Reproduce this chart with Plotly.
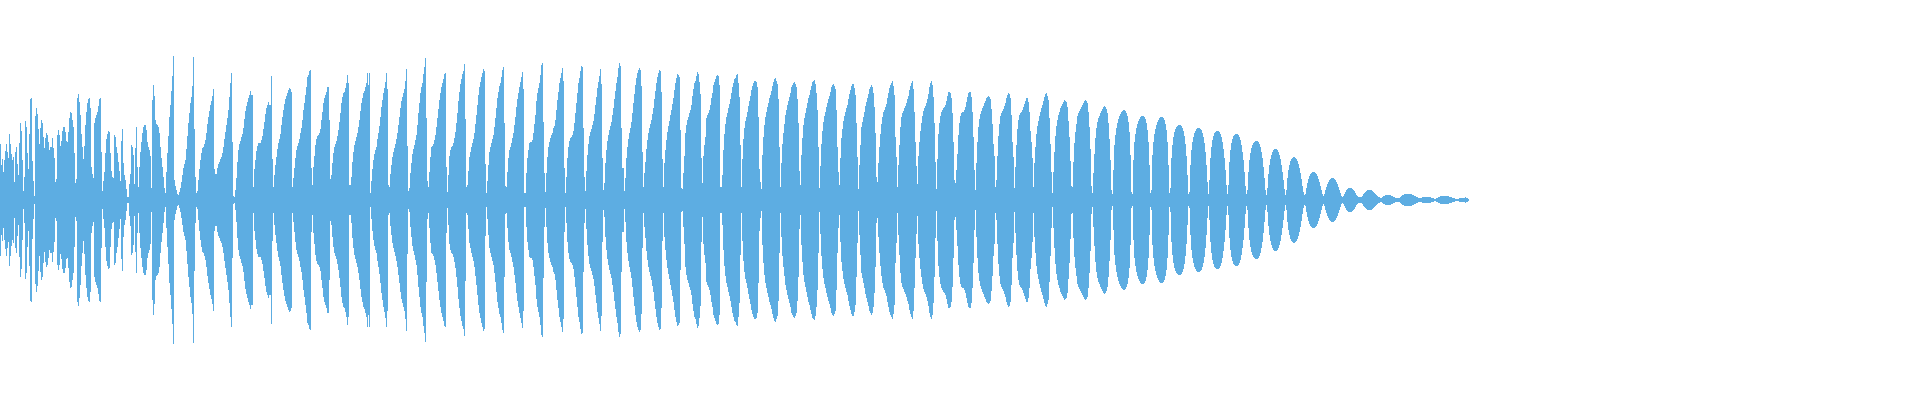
import plotly.graph_objects as go

# peak amplitude per pixel column (half-height, in px of a 400px tall canvas)
# onset: noisy attack
amp_attack = [
    56, 35, 41, 28, 40, 49, 56, 48, 42, 66,
    56, 46, 40, 43, 18, 48, 53, 36, 25, 57,
    77, 69, 40, 9, 23, 79, 73, 47, 31, 66,
    101, 102, 39, 19, 4, 84, 92, 86, 71, 56,
    72, 80, 77, 63, 52, 62, 67, 65, 58, 50,
    53, 53, 62, 52, 42, 18, 21, 65, 70, 65,
    54, 59, 69, 73, 73, 68, 59, 58, 68, 82,
    88, 87, 80, 73, 47, 17, 21, 102, 106, 98,
    85, 66, 53, 41, 54, 75, 88, 97, 101, 102,
    92, 33, 26, 22, 77, 82, 85, 88, 94, 101,
    102, 48, 9, 19, 28, 47, 61, 66, 69, 68,
    47, 29, 23, 22, 65, 63, 53, 47, 38, 29,
    19, 59, 71, 37, 25, 20, 11, 3, 3, 16,
    26, 55, 53, 45, 16, 52, 73, 33, 13, 33,
    48, 58, 67, 73, 75, 75, 70, 58, 53, 50,
    44, 12, 100, 115, 104, 80, 76, 75, 73, 67,
    53, 42, 33, 23, 12, 7, 28, 47, 64, 83,
    95, 109, 124, 144, 20, 14, 10, 6, 5, 8,
    12, 18, 25, 32, 36,
]

amp_build = [
    40, 51, 64, 77, 87, 97, 103, 114, 143, 71,
    23, 7, 9, 20, 31, 40, 47, 52, 53, 56,
    60, 67, 76, 83, 89, 95, 99, 104, 111, 31,
    26, 26, 32, 36, 38, 41, 43, 47, 53, 61,
    68, 75, 82, 90, 103, 117, 127, 58, 4, 3,
    10, 22, 38, 50, 56, 59, 63, 66, 72, 81,
    89, 94, 98, 102, 105, 109, 105, 105, 13, 31,
    40, 49, 54, 57, 57, 57, 60, 64, 71, 78,
    86, 92, 95, 98, 95, 95, 124, 41, 13, 25,
    35, 43, 51, 57, 61, 66, 75, 83, 90, 96,
    101, 104, 107, 110, 112, 111, 108, 13, 22, 32,
    42, 50, 54, 57, 61, 67, 72, 80, 90, 97,
    105, 113, 123, 125, 129, 130, 32, 15, 33, 44,
    55, 61, 64, 65, 67, 71, 80, 88, 97, 102,
    105, 108, 113, 113, 80, 21, 25, 37, 47, 53,
    56, 59, 64, 70, 78, 87, 97, 103, 107, 108,
    112, 117, 125, 117, 15, 15, 23, 38, 48, 55,
    59, 63, 67, 73, 80, 89, 97, 102, 107, 109,
    113, 117, 127, 115, 127,
]

amp_sustain_1 = [
    7, 19, 31, 40, 46, 50, 53, 61, 67, 74,
    83, 93, 100, 107, 112, 118, 127, 111, 15, 13,
    26, 35, 43, 48, 52, 56, 61, 67, 75, 83,
    92, 99, 103, 107, 111, 119, 131, 54, 9, 12,
    27, 37, 46, 51, 55, 60, 65, 75, 87, 97,
    107, 113, 117, 126, 133, 142, 82, 19, 13, 28,
    43, 53, 54, 56, 60, 65, 73, 82, 91, 100,
    107, 113, 117, 121, 126, 127, 33, 8, 25, 44,
    50, 53, 54, 57, 62, 68, 77, 87, 99, 108,
    116, 121, 126, 129, 136, 81, 13, 15, 29, 43,
    48, 53, 57, 61, 67, 76, 85, 95, 105, 113,
    118, 123, 127, 131, 129, 36, 7, 19, 35, 48,
    53, 57, 61, 65, 73, 82, 92, 102, 108, 114,
    117, 123, 130, 133, 77, 14, 13, 28, 42, 50,
    53, 57, 62, 67, 75, 83, 93, 101, 107, 113,
    118, 123, 128, 111, 7, 7, 27, 42, 50, 57,
    58, 58, 60, 67, 76, 85, 99, 107, 112, 117,
    125, 135, 137, 78, 27, 8, 27, 43, 53, 58,
    62, 65, 67, 72, 74,
]

amp_sustain_2 = [
    80, 90, 100, 108, 117, 122, 127, 132, 119, 32,
    7, 23, 42, 53, 59, 62, 63, 65, 69, 77,
    87, 97, 107, 117, 122, 129, 134, 133, 72, 23,
    9, 29, 45, 56, 64, 68, 71, 75, 79, 86,
    95, 103, 112, 118, 124, 131, 116, 42, 10, 17,
    37, 50, 59, 65, 70, 74, 78, 85, 92, 101,
    109, 117, 123, 132, 137, 134, 72, 32, 32, 9,
    22, 42, 53, 61, 67, 72, 78, 87, 97, 106,
    115, 122, 127, 130, 132, 130, 114, 48, 13, 27,
    38, 51, 60, 67, 72, 76, 80, 86, 92, 101,
    109, 117, 123, 127, 130, 129, 108, 41, 13, 37,
    50, 60, 68, 74, 79, 85, 90, 96, 102, 110,
    117, 122, 126, 125, 123, 70, 12, 11, 27, 44,
    67, 75, 80, 83, 87, 90, 95, 104, 111, 117,
    119, 124, 128, 126, 118, 106, 42, 17, 44, 55,
    63, 82, 85, 87, 90, 95, 102, 107, 115, 118,
    121, 124, 125, 124, 115, 13, 13, 25, 50, 66,
    76, 83, 87, 92, 96, 101, 107, 113, 117, 121,
    122, 125, 126, 117, 103,
]

amp_sustain_3 = [
    55, 13, 41, 61, 72, 79, 83, 88, 94, 99,
    104, 110, 114, 117, 119, 119, 118, 113, 83, 31,
    18, 11, 45, 63, 75, 83, 88, 93, 97, 102,
    105, 109, 114, 118, 121, 122, 119, 116, 101, 53,
    13, 37, 56, 67, 76, 85, 90, 95, 99, 103,
    107, 113, 115, 117, 118, 116, 113, 101, 77, 29,
    15, 45, 62, 75, 82, 87, 92, 97, 102, 105,
    110, 114, 118, 119, 120, 116, 107, 90, 53, 12,
    34, 56, 69, 78, 84, 88, 93, 97, 101, 104,
    108, 113, 115, 116, 114, 111, 90, 53, 28, 15,
    42, 62, 71, 79, 84, 88, 92, 95, 101, 106,
    110, 114, 116, 116, 112, 105, 77, 43, 11, 35,
    55, 73, 78, 83, 88, 94, 98, 102, 106, 111,
    113, 115, 113, 107, 93, 67, 23, 18, 37, 53,
    66, 76, 83, 88, 90, 93, 96, 102, 107, 112,
    115, 117, 119, 114, 105, 63, 43, 13, 35, 55,
    73, 83, 87, 89, 92, 94, 97, 101, 104, 110,
    114, 117, 119, 111, 88, 58, 34, 16, 44, 58,
    69, 77, 84, 89, 92,
]

amp_sustain_4 = [
    94, 97, 101, 106, 113, 117, 119, 115, 103, 77,
    38, 11, 41, 66, 77, 84, 88, 90, 92, 93,
    95, 99, 104, 108, 108, 107, 102, 87, 58, 20,
    17, 30, 46, 65, 77, 84, 87, 88, 88, 90,
    93, 98, 103, 107, 108, 108, 103, 88, 63, 30,
    10, 37, 58, 73, 81, 86, 89, 92, 94, 97,
    99, 102, 103, 104, 103, 101, 91, 76, 56, 44,
    13, 20, 44, 64, 76, 84, 87, 89, 91, 94,
    97, 102, 105, 107, 106, 102, 85, 58, 43, 12,
    33, 55, 71, 80, 85, 87, 88, 90, 93, 96,
    99, 102, 102, 98, 88, 69, 58, 42, 13, 37,
    53, 66, 74, 79, 84, 88, 92, 95, 99, 103,
    106, 107, 104, 100, 82, 56, 28, 7, 28, 48,
    64, 74, 80, 85, 88, 92, 94, 96, 98, 100,
    99, 98, 93, 79, 63, 39, 14, 13, 38, 57,
    68, 76, 84, 87, 89, 91, 93, 95, 97, 99,
    100, 99, 97, 88, 73, 51, 14, 7, 27, 46,
    62, 72, 78, 82, 84, 87, 89, 91, 93, 94,
    93, 91, 87, 77, 61,
]

# release: smooth decaying lobes
amp_release = [
    40, 10, 6,
    30, 55, 65, 72, 77, 81, 84, 86, 88, 89, 90, 90, 89, 87, 84, 78, 68, 45, 8,
    6, 40, 58, 66, 72, 76, 79, 81, 83, 84, 84, 84, 83, 81, 77, 70, 58, 35, 7,
    10, 45, 58, 66, 71, 75, 78, 80, 82, 83, 83, 83, 82, 80, 76, 70, 58, 35, 7,
    12, 42, 55, 63, 68, 71, 73, 74, 75, 75, 75, 74, 72, 69, 64, 56, 44, 25, 6,
    8, 35, 50, 58, 63, 67, 69, 71, 72, 72, 72, 71, 70, 67, 63, 57, 48, 35, 18, 6,
    20, 42, 53, 60, 64, 67, 68, 69, 69, 69, 68, 66, 63, 58, 51, 42, 30, 15, 6,
    15, 38, 50, 57, 61, 64, 65, 66, 66, 66, 65, 63, 60, 55, 48, 40, 28, 14, 6,
    10, 28, 40, 47, 52, 55, 57, 58, 59, 59, 59, 58, 56, 53, 48, 42, 33, 22, 10, 5,
    12, 26, 35, 41, 45, 48, 50, 51, 51, 51, 50, 48, 45, 41, 35, 28, 20, 11, 5,
    10, 22, 30, 35, 39, 41, 42, 43, 43, 42, 41, 39, 36, 32, 27, 21, 14, 8, 5,
    6, 12, 17, 21, 24, 26, 27, 28, 28, 28, 27, 26, 24, 21, 18, 14, 10, 6, 4,
    6, 10, 13, 16, 18, 20, 21, 22, 22, 22, 21, 20, 18, 16, 13, 10, 7, 4, 3,
    4, 6, 8, 10, 11, 12, 12, 12, 12, 11, 10, 9, 7, 5, 4, 3, 3, 3,
    3, 4, 6, 7, 8, 9, 10, 10, 10, 10, 10, 9, 8, 7, 6, 5, 4, 3, 3, 2,
    2, 3, 4, 4, 5, 5, 5, 5, 5, 5, 4, 4, 3, 3, 2, 2, 2, 2,
    2, 3, 4, 5, 5, 6, 6, 6, 6, 6, 6, 6, 6, 5, 5, 4, 4, 3, 3, 2, 2,
    2, 2, 3, 3, 3, 3, 3, 3, 3, 3, 3, 2, 2, 2, 1,
    1, 2, 2, 3, 3, 4, 4, 4, 4, 4, 4, 4, 4, 4, 3, 3, 3, 2, 2, 2, 1, 1,
    1, 1, 2, 2, 2, 2, 2, 2, 3, 2, 2, 1,
]

amp = (amp_attack + amp_build + amp_sustain_1 + amp_sustain_2
       + amp_sustain_3 + amp_sustain_4 + amp_release)
column = list(range(len(amp)))

fig = go.Figure(go.Bar(
    x=column,
    y=[2 * a for a in amp],
    base=[-a for a in amp],
    width=1,
    marker=dict(color="#5dade2", line=dict(width=0)),
    hoverinfo="skip",
))

fig.update_layout(
    width=1920, height=400,
    margin=dict(l=0, r=0, t=0, b=0),
    paper_bgcolor="white", plot_bgcolor="white",
    bargap=0, showlegend=False,
    xaxis=dict(range=[-0.5, 1919.5], visible=False, fixedrange=True),
    yaxis=dict(range=[-200, 200], visible=False, fixedrange=True),
)

# page body has a default 8px margin; drop it so the canvas sits at 0,0
fig.write_html("out.html", config={"displayModeBar": False},
               post_script="document.body.style.margin='0';")
